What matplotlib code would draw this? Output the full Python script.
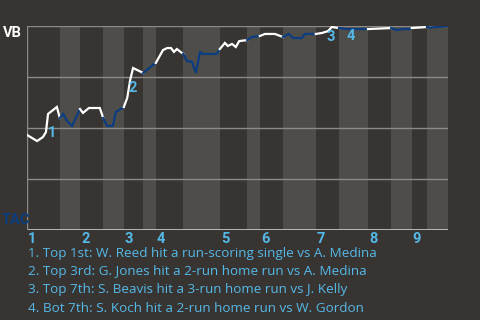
import numpy as np
import matplotlib
matplotlib.use('Agg')
import matplotlib.pyplot as plt

# win probability for VB (percent) vs game progress
progress = [0, 2.4, 3.8, 4.5, 5.0, 7.1, 7.8, 8.6, 9.5, 10.7, 12.6, 13.3, 14.7, 17.3, 18.1,
            19.0, 20.4, 21.1, 23.0, 23.8, 24.5, 25.2, 27.6, 29.9, 30.6, 32.3, 33.3, 34.2,
            34.9, 35.6, 37.1, 38.0, 39.2, 40.1, 41.1, 41.8, 45.1, 45.8, 47.0, 47.7, 48.7,
            49.6, 50.4, 52.3, 53.4, 55.3, 56.5, 58.9, 60.8, 62.2, 63.2, 65.3, 66.0, 68.6,
            70.1, 71.5, 72.4, 74.1, 76.0, 81.0, 86.5, 87.9, 89.3, 91.0, 91.4, 95.0, 95.7,
            97.4, 100]
vb_prob = [46.6, 43.6, 45.6, 48.0, 56.9, 60.3, 54.9, 56.9, 53.4, 51.0, 59.3, 57.4, 59.8,
           59.8, 54.9, 51.0, 51.0, 57.8, 60.3, 64.7, 73.5, 79.4, 77.0, 80.9, 81.9, 88.2,
           89.2, 89.2, 87.3, 88.7, 86.3, 82.8, 82.4, 77.0, 87.3, 86.3, 86.3, 88.7, 91.7,
           90.2, 91.2, 89.7, 92.6, 93.1, 94.6, 95.1, 96.1, 96.1, 94.6, 96.1, 94.1, 94.1,
           96.1, 96.1, 96.6, 97.5, 99.5, 99.0, 98.5, 98.5, 99.0, 98.0, 98.5, 98.5, 99.0,
           99.5, 99.2, 99.5, 100]

# half-inning boundaries (top 1, bot 1, top 2, ...)
half_bounds = [0, 7.8, 12.6, 18.1, 23.0, 27.6, 30.6, 37.1, 45.8, 52.3, 55.3, 60.8,
               68.6, 74.1, 81.0, 86.5, 91.4, 95.0, 100]
innings = ['1', '2', '3', '4', '5', '6', '7', '8', '9']

# key events
event_x = [5.0, 25.2, 72.4, 76.0]
event_p = [56.9, 79.4, 99.5, 98.5]
event_text = ["1. Top 1st: W. Reed hit a run-scoring single vs A. Medina",
              "2. Top 3rd: G. Jones hit a 2-run home run vs A. Medina",
              "3. Top 7th: S. Beavis hit a 3-run home run vs J. Kelly",
              "4. Bot 7th: S. Koch hit a 2-run home run vs W. Gordon"]

bg = '#373431'
band = '#4f4d4a'
navy = '#0b3d80'
light_blue = '#55b9e8'
font = 'Open Sans'
bold_font = 'Roboto'

x = np.array(progress)
p = np.array(vb_prob)

fig = plt.figure(figsize=(4.8, 3.2), dpi=100, facecolor=bg)
ax = fig.add_axes([27/480, 90/320, 421/480, 204/320])
ax.set_facecolor(bg)
ax.set_xlim(0, 100)
ax.set_ylim(0, 100)

# shade bottom halves
for i in range(1, len(half_bounds) - 1, 2):
    ax.axvspan(half_bounds[i], half_bounds[i+1], color=band, lw=0, zorder=0)

for g in [25, 50, 75, 100]:
    ax.axhline(g, color='#8c8986', lw=1, zorder=1)
ax.axhline(0, color='#cfcdcb', lw=1.2, zorder=1)
ax.axvline(0, color='#8c8986', lw=1, zorder=1)

# line: white while VB bats (top), navy while TAC bats (bottom)
for i in range(len(half_bounds) - 1):
    m = (x >= half_bounds[i] - 1e-9) & (x <= half_bounds[i+1] + 1e-9)
    col = 'white' if i % 2 == 0 else navy
    ax.plot(x[m], p[m], color=col, lw=1.6, zorder=3, solid_joinstyle='miter')

offsets = [(0, -9), (-3, -9), (-4, -2), (0, 0)]
for k in range(len(event_x)):
    ax.annotate(str(k+1), (event_x[k], event_p[k]), xytext=offsets[k],
                textcoords='offset points', ha='left', va='top', color=light_blue,
                fontsize=10.5, fontweight='bold', family=bold_font, zorder=4)

for spine in ax.spines.values():
    spine.set_visible(False)
ax.set_xticks([])
ax.set_yticks([])

fig.text(3/480, 1 - 33/320, 'VB', color='white', fontsize=10.5, fontweight='bold',
         family=bold_font, va='center', ha='left')
fig.text(2/480, 1 - 220/320, 'TAC', color=navy, fontsize=10.5, fontweight='bold',
         family=bold_font, va='center', ha='left')

for j, lab in enumerate(innings):
    xp = 27 + half_bounds[2*j] * 4.21 + 1
    fig.text(xp/480, 1 - 239/320, lab, color=light_blue, fontsize=10.5, fontweight='bold',
             family=bold_font, va='center', ha='left')

for k, t in enumerate(event_text):
    fig.text(28/480, 1 - (254 + 18*k)/320, t, color=light_blue, fontsize=9.7,
             family=font, va='center', ha='left')

fig.savefig('out.png', dpi=100, facecolor=bg)
